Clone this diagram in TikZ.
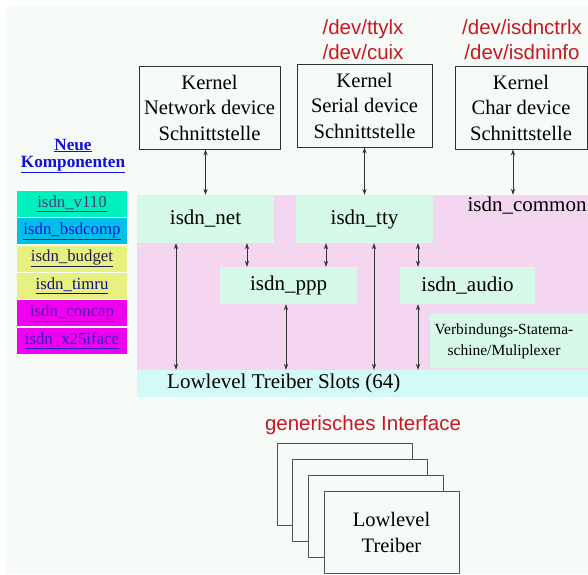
\documentclass[tikz,border=0pt]{standalone}
\usepackage{fontspec}
\setmainfont{Liberation Serif}
\newfontfamily\redsans{Liberation Sans}
\usetikzlibrary{arrows.meta}
\definecolor{bgpale}{RGB}{246,251,248}
\definecolor{mint}{RGB}{214,249,232}
\definecolor{pinkreg}{RGB}{245,214,240}
\definecolor{cyanpale}{RGB}{212,250,247}
\definecolor{devred}{RGB}{200,24,32}
\definecolor{linkblue}{RGB}{16,16,225}
\definecolor{cAqua}{RGB}{0,240,190}
\definecolor{cCyan}{RGB}{0,192,232}
\definecolor{cKhaki}{RGB}{232,240,128}
\definecolor{cMag}{RGB}{240,0,240}
\definecolor{tV}{RGB}{85,55,120}
\definecolor{tB}{RGB}{20,20,220}
\definecolor{tBu}{RGB}{30,30,80}
\definecolor{tT}{RGB}{15,15,140}
\definecolor{tC}{RGB}{85,20,175}
\definecolor{tX}{RGB}{45,30,190}
\definecolor{lineg}{RGB}{50,50,50}
\begin{document}
\begin{tikzpicture}[x=1pt,y=-1pt,
  kbox/.style={draw=lineg,line width=0.9pt,fill=bgpale,align=center,inner sep=0pt,
    font=\fontsize{20.6}{25.5}\selectfont},
  mbox/.style={fill=mint,inner sep=0pt,font=\fontsize{21}{25}\selectfont},
  devtxt/.style={text=devred,align=center,font=\redsans\fontsize{20.5}{25}\selectfont},
  comp/.style={minimum width=110pt,minimum height=26pt,inner sep=0pt,
    font=\fontsize{16.8}{18}\selectfont},
  sbox/.style={draw=lineg!85,line width=1pt,fill=bgpale,minimum width=135pt,minimum height=82pt,inner sep=0pt},
  arr/.style={draw=lineg,line width=0.8pt,{Stealth[length=6pt,width=4.2pt]}-{Stealth[length=6pt,width=4.2pt]}}
]
\path[use as bounding box,fill=white] (0,0) rectangle (588,574);
\fill[bgpale] (6,6) rectangle (588,574);

% left panel
\node[text=linkblue,align=center,font=\bfseries\fontsize{17.2}{17.5}\selectfont] (neue) at (73,156)
  {\underline{Neue}\\\underline{Komponenten}};
\node[comp,fill=cAqua,text=tV] (c1) at (72,204) {\underline{isdn\_v110}};
\node[comp,fill=cCyan,text=tB] (c2) at (72,231.3) {\underline{isdn\_bsdcomp}};
\node[comp,fill=cKhaki,text=tBu] (c3) at (72,258.6) {\underline{isdn\_budget}};
\node[comp,fill=cKhaki,text=tT] (c4) at (72,285.9) {\underline{isdn\_timru}};
\node[comp,fill=cMag,text=tC] (c5) at (72,313.2) {\underline{isdn\_concap}};
\node[comp,fill=cMag,text=tX] (c6) at (72,340.5) {\underline{isdn\_x25iface}};

% kernel boxes
\node[kbox,minimum width=141pt,minimum height=83pt] (k1) at (209.5,107.5) {Kernel\\Network device\\Schnittstelle};
\node[kbox,minimum width=135pt,minimum height=83pt] (k2) at (364.5,105.5) {Kernel\\Serial device\\Schnittstelle};
\node[kbox,minimum width=132pt,minimum height=83pt] (k3) at (521,107.5) {Kernel\\Char device\\Schnittstelle};
\node[devtxt] (d2) at (363,39.5) {/dev/ttylx\\/dev/cuix};
\node[devtxt] (d3) at (522,39.5) {/dev/isdnctrlx\\/dev/isdninfo};

% middle region
\node[fill=pinkreg,minimum width=451pt,minimum height=175pt,inner sep=0pt] (common) at (362.5,282.5) {};
\node[font=\fontsize{21}{25}\selectfont] (commonlbl) at (527,206) {isdn\_common};
\node[mbox,minimum width=137pt,minimum height=48pt] (net) at (205.5,219) {isdn\_net};
\node[mbox,minimum width=137pt,minimum height=48pt] (tty) at (364.5,219) {isdn\_tty};
\node[mbox,minimum width=137pt,minimum height=37pt] (ppp) at (288.5,285.5) {isdn\_ppp};
\node[mbox,minimum width=135pt,minimum height=37pt] (audio) at (467.5,285.5) {isdn\_audio};
\node[fill=mint,minimum width=158pt,minimum height=54pt,inner sep=0pt,align=center,
  font=\fontsize{15.5}{21}\selectfont] (vm) at (509,341) {\hspace*{-10pt}Verbindungs-Statema-\\\hspace*{-10pt}schine/Muliplexer};
\node[fill=cyanpale,minimum width=451pt,minimum height=27pt,inner sep=0pt] (slots) at (362.5,383.5) {};
\node[anchor=west,inner sep=0pt,font=\fontsize{21}{25}\selectfont] (slotslbl) at (167,383.5) {Lowlevel Treiber Slots (64)};

% arrows
\draw[arr] (net.north |- k1.south) -- (net.north);
\draw[arr] (tty.north |- k2.south) -- (tty.north);
\draw[arr] ([xshift=-8pt]k3.south) -- ([xshift=-8pt]k3.south |- common.north);
\draw[arr] ([xshift=-29.5pt]net.south) -- ([xshift=-29.5pt]net.south |- slots.north);
\draw[arr] ([xshift=41.5pt]net.south) -- ([xshift=41.5pt]net.south |- ppp.north);
\draw[arr] ([xshift=37.5pt]ppp.north |- tty.south) -- ([xshift=37.5pt]ppp.north);
\draw[arr] ([xshift=9.5pt]tty.south) -- ([xshift=9.5pt]tty.south |- slots.north);
\draw[arr] ([xshift=-49.5pt]audio.north |- tty.south) -- ([xshift=-49.5pt]audio.north);
\draw[arr] ([xshift=-2.5pt]ppp.south) -- ([xshift=-2.5pt]ppp.south |- slots.north);
\draw[arr] ([xshift=-49.5pt]audio.south) -- ([xshift=-49.5pt]audio.south |- slots.north);

% bottom
\node[devtxt] (gi) at (363,425) {generisches Interface};
\node[sbox] (s1) at (344.5,484.5) {};
\node[sbox] (s2) at (360,500.5) {};
\node[sbox] (s3) at (376,516.5) {};
\node[sbox,align=center,font=\fontsize{20.5}{26}\selectfont] (s4) at (391.5,532) {Lowlevel\\Treiber};
\end{tikzpicture}
\end{document}
